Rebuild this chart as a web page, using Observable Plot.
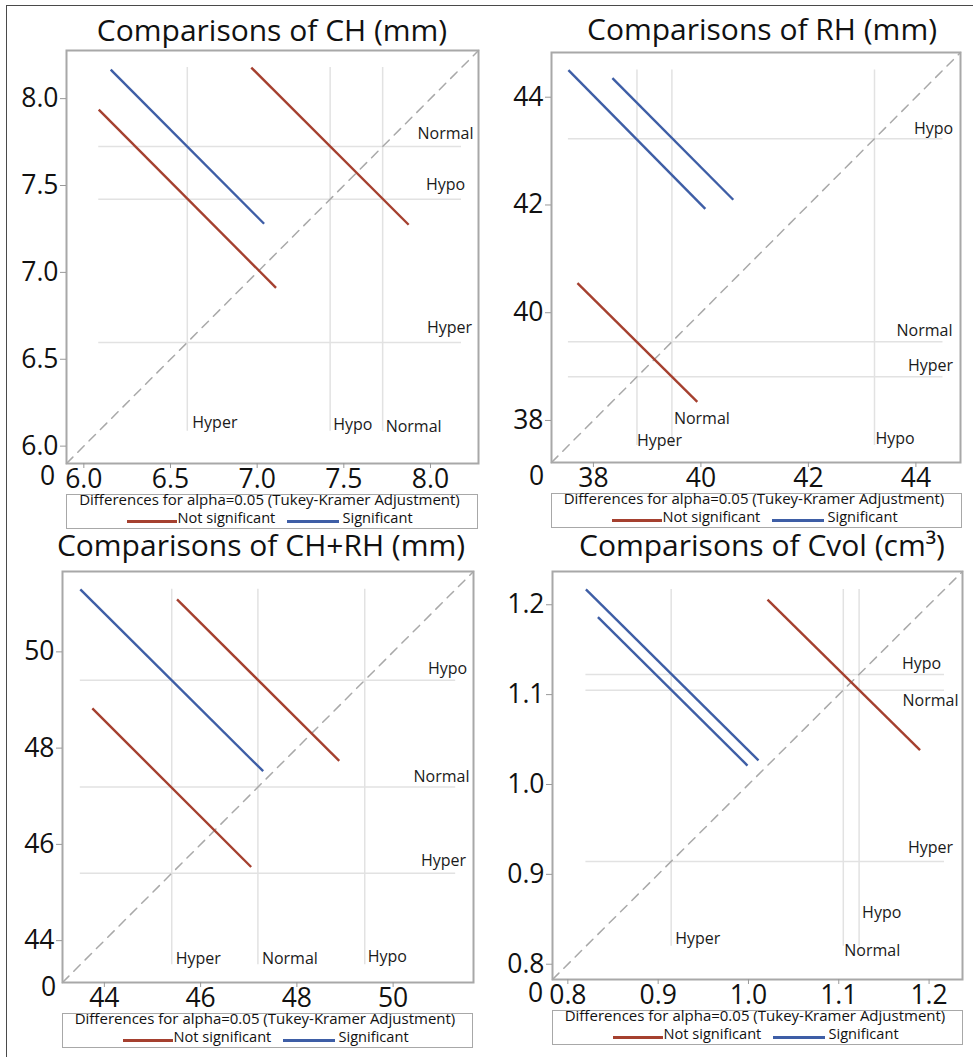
<!DOCTYPE html>
<html>
<head>
<meta charset="utf-8">
<script src="https://cdn.jsdelivr.net/npm/d3@7"></script>
<script src="https://cdn.jsdelivr.net/npm/@observablehq/plot@0.6"></script>
<style>
  html, body { margin: 0; padding: 0; background: #fff; }
  #root { position: relative; width: 973px; height: 1057px; overflow: hidden; background: #fff;
          font-family: "Open Sans", sans-serif; color: #111; }
  .txt { position: absolute; white-space: nowrap; }
  .panel svg { overflow: visible; }
</style>
</head>
<body>
<div id="root"></div>
<script>
// ---------------- data ----------------
const groups = ["Hyper", "Hypo", "Normal"];

// CH (mm)
const chMeans = [6.597, 7.421, 7.724];
const chDomain = [5.90, 8.277];
const chTicks = [6.0, 6.5, 7.0, 7.5, 8.0];
const chSegments = [
  {pair: "Hyper-Hypo",   x1: 6.086, y1: 7.937, x2: 7.109, y2: 6.911, significant: false},
  {pair: "Hyper-Normal", x1: 6.155, y1: 8.167, x2: 7.040, y2: 7.280, significant: true},
  {pair: "Hypo-Normal",  x1: 6.966, y1: 8.179, x2: 7.874, y2: 7.274, significant: false}
];

// RH (mm)
const rhMeans = [38.81, 43.23, 39.46];
const rhDomain = [37.22, 44.83];
const rhTicks = [38, 40, 42, 44];
const rhSegments = [
  {pair: "Hyper-Hypo",   x1: 37.535, y1: 44.504, x2: 40.082, y2: 41.929, significant: true},
  {pair: "Normal-Hypo",  x1: 38.353, y1: 44.354, x2: 40.602, y2: 42.097, significant: true},
  {pair: "Hyper-Normal", x1: 37.703, y1: 40.550, x2: 39.933, y2: 38.347, significant: false}
];

// CH+RH (mm)
const chrhMeans = [45.40, 49.41, 47.19];
const chrhDomain = [43.13, 51.67];
const chrhTicks = [44, 46, 48, 50];
const chrhSegments = [
  {pair: "Hyper-Hypo",   x1: 43.50, y1: 51.300, x2: 47.30, y2: 47.520, significant: true},
  {pair: "Normal-Hypo",  x1: 45.51, y1: 51.090, x2: 48.88, y2: 47.735, significant: false},
  {pair: "Hyper-Normal", x1: 43.75, y1: 48.825, x2: 47.05, y2: 45.530, significant: false}
];

// Cvol (cm3)
const cvolMeans = [0.9144, 1.1225, 1.1050];
const cvolDomain = [0.783, 1.237];
const cvolTicks = [0.8, 0.9, 1.0, 1.1, 1.2];
const cvolSegments = [
  {pair: "Hyper-Hypo",   x1: 0.8200, y1: 1.2171, x2: 1.0111, y2: 1.0268, significant: true},
  {pair: "Hyper-Normal", x1: 0.8333, y1: 1.1863, x2: 0.9989, y2: 1.0211, significant: true},
  {pair: "Normal-Hypo",  x1: 1.0211, y1: 1.2057, x2: 1.1900, y2: 1.0382, significant: false}
];

const titles = ["Comparisons of CH (mm)", "Comparisons of RH (mm)", "Comparisons of CH+RH (mm)", "Comparisons of Cvol (cm³)"];
const legendTitle = "Differences for alpha=0.05 (Tukey-Kramer Adjustment)";
const legendLabels = ["Not significant", "Significant"];
const originLabel = "0";

// ---------------- styling / layout ----------------
const RED = "#a5402f";
const BLUE = "#3e5ea6";
const ML = 66, MT = 10, MR = 10, MB = 40;

const layouts = [
  {fx: 66, fy: 50, fw: 412, fh: 413, tcx: 272, tb: 42, lx: 66, ly: 494, lw: 412, lh: 35, zdx: -19, zdy: 13,
   right: {Normal: [-33, -8], Hypo: [-33, -9], Hyper: [-29, -9]},
   bottom: {Hyper: [5, -3], Hypo: [3, -1], Normal: [3, 1]}},
  {fx: 551, fy: 52, fw: 409, fh: 410, tcx: 762, tb: 41, lx: 551, ly: 493, lw: 411, lh: 35, zdx: -15, zdy: 14,
   right: {Hypo: [-27, -5], Normal: [-36, -6], Hyper: [-30, -6]},
   bottom: {Normal: [2, -22], Hyper: [0, 0], Hypo: [1, -2]}},
  {fx: 62, fy: 571, fw: 411, fh: 411, tcx: 261, tb: 557, lx: 62, ly: 1013, lw: 411, lh: 35, zdx: -14, zdy: 5,
   right: {Hypo: [-26, -6], Normal: [-32, -5], Hyper: [-30, -7]},
   bottom: {Hyper: [4, -1], Normal: [4, -1], Hypo: [3, -3]}},
  {fx: 552, fy: 571, fw: 410, fh: 408, tcx: 762, tb: 557, lx: 552, ly: 1010, lw: 411, lh: 35, zdx: -17, zdy: 14,
   right: {Hypo: [-41, -5], Normal: [-32, 16], Hyper: [-32, -8]},
   bottom: {Hypo: [3, -28], Normal: [1, 10], Hyper: [4, -2]}}
];

const panels = [
  {means: chMeans, domain: chDomain, ticks: chTicks, segments: chSegments, fmt: d3.format(".1f")},
  {means: rhMeans, domain: rhDomain, ticks: rhTicks, segments: rhSegments, fmt: d3.format("d")},
  {means: chrhMeans, domain: chrhDomain, ticks: chrhTicks, segments: chrhSegments, fmt: d3.format("d")},
  {means: cvolMeans, domain: cvolDomain, ticks: cvolTicks, segments: cvolSegments, fmt: d3.format(".1f")}
];

const root = document.getElementById("root");

function placeText(parent, str, {x, baseline, size, anchor = "start", color = "#111"}) {
  const el = document.createElement("div");
  el.className = "txt";
  el.textContent = str;
  el.style.fontSize = size + "px";
  el.style.lineHeight = size + "px";
  el.style.top = (baseline - 0.888 * size) + "px";
  el.style.left = x + "px";
  el.style.color = color;
  if (anchor === "middle") el.style.transform = "translateX(-50%)";
  else if (anchor === "end") el.style.transform = "translateX(-100%)";
  parent.appendChild(el);
  return el;
}

// outer figure border (top and left)
const topBorder = document.createElement("div");
topBorder.style.cssText = "position:absolute;left:6px;top:5px;width:967px;height:0;border-top:1.6px solid #4a4a4a;";
root.appendChild(topBorder);
const leftBorder = document.createElement("div");
leftBorder.style.cssText = "position:absolute;left:6px;top:5px;width:0;height:1052px;border-left:1.6px solid #4a4a4a;";
root.appendChild(leftBorder);

panels.forEach((p, i) => {
  const L = layouts[i];
  const md = groups.map((g, k) => ({group: g, mean: p.means[k]}));
  const coords = p.segments.flatMap(s => [s.x1, s.y1, s.x2, s.y2]);
  const lo = d3.min(coords), hi = d3.max(coords);

  const rightLabels = md.map(d => Plot.text([d], {
    y: "mean", text: "group", frameAnchor: "right", textAnchor: "middle", lineAnchor: "bottom",
    dx: L.right[d.group][0], dy: L.right[d.group][1], fontSize: 16, fill: "#1a1a1a"
  }));
  const bottomLabels = md.map(d => Plot.text([d], {
    x: "mean", y: () => lo, text: "group", textAnchor: "start", lineAnchor: "bottom",
    dx: L.bottom[d.group][0], dy: L.bottom[d.group][1], fontSize: 16, fill: "#1a1a1a"
  }));

  const chart = Plot.plot({
    width: ML + L.fw + MR,
    height: MT + L.fh + MB,
    marginLeft: ML, marginTop: MT, marginRight: MR, marginBottom: MB,
    x: {domain: p.domain},
    y: {domain: p.domain},
    style: {fontFamily: "Open Sans", background: "transparent", overflow: "visible", color: "#111"},
    marks: [
      Plot.ruleY(md, {y: "mean", x1: () => lo, x2: () => hi, stroke: "#e2e2e2", strokeWidth: 1.5}),
      Plot.ruleX(md, {x: "mean", y1: () => lo, y2: () => hi, stroke: "#e2e2e2", strokeWidth: 1.5}),
      Plot.line(p.domain, {x: d => d, y: d => d, stroke: "#a9a9a9", strokeWidth: 1.5, strokeDasharray: "9,7"}),
      Plot.link(p.segments, {x1: "x1", y1: "y1", x2: "x2", y2: "y2",
        stroke: d => d.significant ? BLUE : RED, strokeWidth: 2.4}),
      Plot.frame({stroke: "#a8a8a8", strokeWidth: 2}),
      Plot.axisY({ticks: p.ticks, tickFormat: p.fmt, tickSize: 6, tickPadding: 2, fontSize: 26.5,
        stroke: "#999", fill: "#111"}),
      Plot.axisX({ticks: p.ticks, tickFormat: p.fmt, tickSize: 5, tickPadding: 1, fontSize: 26.5,
        stroke: "#999", fill: "#111"}),
      Plot.text([originLabel], {text: d => d, frameAnchor: "bottom-left", dx: L.zdx, dy: L.zdy,
        textAnchor: "middle", lineAnchor: "middle", fontSize: 26.5, fill: "#111"}),
      ...rightLabels,
      ...bottomLabels
    ]
  });

  const wrap = document.createElement("div");
  wrap.className = "panel";
  wrap.style.cssText = `position:absolute;left:${L.fx - ML}px;top:${L.fy - MT}px;`;
  wrap.appendChild(chart);
  root.appendChild(wrap);

  // title
  placeText(root, titles[i], {x: L.tcx, baseline: L.tb, size: 30, anchor: "middle"});

  // legend box
  const box = document.createElement("div");
  box.style.cssText = `position:absolute;left:${L.lx}px;top:${L.ly}px;width:${L.lw}px;height:${L.lh}px;` +
    `border:1.5px solid #a8a8a8;box-sizing:border-box;background:#fff;`;
  root.appendChild(box);
  const b = 1.5;
  placeText(box, legendTitle, {x: L.lw / 2 - b - 2, baseline: 12 - b, size: 15}); // placeholder replaced below
  box.lastChild.style.transform = "translateX(-50%)";
  const items = [
    {label: legendLabels[0], color: RED, x0: 61, x1: 111, tx: 112},
    {label: legendLabels[1], color: BLUE, x0: 221, x1: 273, tx: 277}
  ];
  items.forEach(it => {
    const ln = document.createElement("div");
    ln.style.cssText = `position:absolute;left:${it.x0 - b}px;top:${28 - b - 1.5}px;width:${it.x1 - it.x0}px;height:3px;background:${it.color};`;
    box.appendChild(ln);
    placeText(box, it.label, {x: it.tx - b, baseline: 29 - b, size: 14.6});
  });
});
</script>
</body>
</html>
